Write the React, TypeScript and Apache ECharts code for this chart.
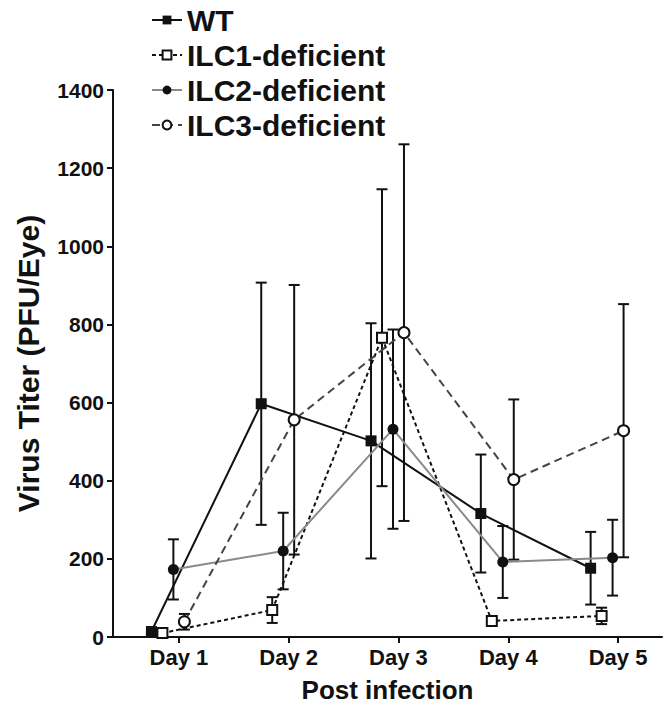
import React, { useEffect, useRef } from "react";
import * as echarts from "echarts";

const days = [1, 2, 3, 4, 5];
const dayLabels = ["Day 1", "Day 2", "Day 3", "Day 4", "Day 5"];
const yTicks = [0, 200, 400, 600, 800, 1000, 1200, 1400];

const seriesNames = ["WT", "ILC1-deficient", "ILC2-deficient", "ILC3-deficient"];
const wtMean = [14, 597, 502, 316, 176];
const wtErr = [5, 310, 301, 151, 93];
const ilc1Mean = [10, 69, 766, 41, 54];
const ilc1Err = [4, 33, 380, 4, 21];
const ilc2Mean = [173, 220, 532, 192, 203];
const ilc2Err = [77, 98, 255, 92, 97];
const ilc3Mean = [39, 556, 779, 403, 528];
const ilc3Err = [20, 345, 482, 205, 324];
const offsets = [-0.25, -0.15, -0.05, 0.05];

const FONT = '"Liberation Sans", Arial, sans-serif';

export default function App() {
  const ref = useRef<HTMLDivElement>(null);
  useEffect(() => {
    if (!ref.current) return;
    const chart = echarts.init(ref.current, null, { renderer: "svg" });
    const means = [wtMean, ilc1Mean, ilc2Mean, ilc3Mean];
    const errs = [wtErr, ilc1Err, ilc2Err, ilc3Err];
    const styles = [
      { color: "#111", type: "solid", symbol: "rect", size: 11 },
      { color: "#111", type: [4, 3], symbol: "emptyRect", size: 10 },
      { color: "#8a8a8a", type: "solid", symbol: "circle", size: 11 },
      { color: "#444", type: [8, 5], symbol: "emptyCircle", size: 11 },
    ];

    const errSeries = seriesNames.map((n, i) => ({
      name: n + " err",
      type: "custom",
      z: 1,
      data: days.map((d, k) => [d + offsets[i], means[i][k] - errs[i][k], means[i][k] + errs[i][k]]),
      encode: { x: 0, y: [1, 2] },
      renderItem: (params: any, api: any) => {
        const x = api.value(0);
        const lo = api.coord([x, api.value(1)]);
        const hi = api.coord([x, api.value(2)]);
        const hw = 5.5;
        const st = { stroke: "#111", lineWidth: 2 };
        return {
          type: "group",
          children: [
            { type: "line", shape: { x1: hi[0], y1: hi[1], x2: lo[0], y2: lo[1] }, style: st },
            { type: "line", shape: { x1: hi[0] - hw, y1: hi[1], x2: hi[0] + hw, y2: hi[1] }, style: st },
            { type: "line", shape: { x1: lo[0] - hw, y1: lo[1], x2: lo[0] + hw, y2: lo[1] }, style: st },
          ],
        };
      },
    }));

    const lineSeries = seriesNames.map((n, i) => ({
      name: n,
      type: "line",
      z: 3,
      data: days.map((d, k) => [d + offsets[i], means[i][k]]),
      symbol: styles[i].symbol,
      symbolSize: styles[i].size,
      lineStyle: { color: styles[i].color, width: 2, type: styles[i].type },
      itemStyle: {
        color: "#111",
        borderColor: "#111",
        borderWidth: i === 1 || i === 3 ? 1.6 : 0,
      },
    }));

    chart.setOption({
      animation: false,
      backgroundColor: "#fff",
      textStyle: { fontFamily: FONT },
      legend: {
        data: seriesNames,
        orient: "vertical",
        left: 146,
        top: 0,
        itemWidth: 30,
        itemHeight: 11,
        itemGap: 5,
        textStyle: { fontFamily: FONT, fontSize: 30, fontWeight: "bold", color: "#111", lineHeight: 30 },
      },
      grid: { left: 113, right: 4, top: 90, bottom: 73, containLabel: false, outerBoundsMode: "none" },
      xAxis: {
        type: "value",
        min: 0.4,
        max: 5.4,
        name: "Post infection",
        nameLocation: "middle",
        nameGap: 40,
        nameTextStyle: { fontFamily: FONT, fontSize: 26, fontWeight: "bold", color: "#111" },
        axisLine: { show: true, lineStyle: { color: "#111", width: 2 } },
        axisTick: { show: true, length: 6, lineStyle: { color: "#111", width: 2 }, customValues: days },
        axisLabel: {
          customValues: days,
          formatter: (v: number) => dayLabels[Math.round(v) - 1] ?? "",
          fontFamily: FONT,
          fontSize: 22,
          fontWeight: "bold",
          color: "#111",
          margin: 9,
        },
        splitLine: { show: false },
      },
      yAxis: {
        type: "value",
        min: 0,
        max: 1400,
        interval: 200,
        name: "Virus Titer (PFU/Eye)",
        nameLocation: "middle",
        nameGap: 70,
        nameTextStyle: { fontFamily: FONT, fontSize: 30, fontWeight: "bold", color: "#111" },
        axisLine: { show: true, lineStyle: { color: "#111", width: 2 } },
        axisTick: { show: true, length: 6, lineStyle: { color: "#111", width: 2 } },
        axisLabel: {
          customValues: yTicks,
          formatter: (v: number) => String(v),
          fontFamily: FONT,
          fontSize: 21,
          fontWeight: "bold",
          color: "#111",
          margin: 9,
        },
        splitLine: { show: false },
      },
      series: [...errSeries, ...lineSeries],
    } as any);
    return () => chart.dispose();
  }, []);
  return (
    <div
      ref={ref}
      style={{ position: "fixed", left: 0, top: 0, width: 666, height: 710, background: "#fff" }}
    />
  );
}
